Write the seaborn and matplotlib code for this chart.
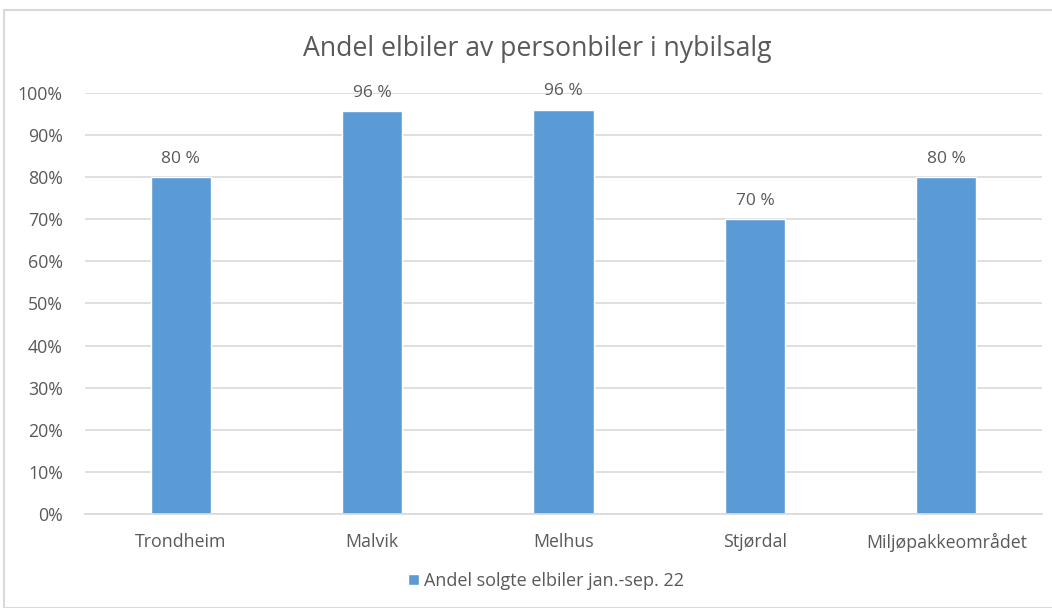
import seaborn as sns
import matplotlib.pyplot as plt
import pandas as pd
from matplotlib.patches import Rectangle
from matplotlib.ticker import PercentFormatter

# values (share of new cars that are EVs)
kommuner = ['Trondheim', 'Malvik', 'Melhus', 'Stjørdal', 'Miljøpakkeområdet']
andel = [0.80, 0.957, 0.96, 0.70, 0.80]
etiketter = ['80 %', '96 %', '96 %', '70 %', '80 %']
serie = 'Andel solgte elbiler jan.-sep. 22'

df = pd.DataFrame({'kommune': kommuner, 'andel': andel})

sns.set_style('white')
plt.rcParams['font.family'] = ['Open Sans', 'DejaVu Sans']

grey = '#595959'
blue = '#5B9BD5'

fig = plt.figure(figsize=(10.52, 6.08), dpi=100)
ax = fig.add_axes([85 / 1052, 0.1546, 957 / 1052, 0.6925])

sns.barplot(data=df, x='kommune', y='andel', color=blue, width=0.314,
            saturation=1, ax=ax, label=serie)

ax.set_ylim(0, 1)
ax.set_yticks([i / 10 for i in range(11)])
ax.yaxis.set_major_formatter(PercentFormatter(1.0, decimals=0))
ax.grid(axis='y', color='#D9D9D9', linewidth=1.2)
ax.set_axisbelow(True)
for s in ['top', 'right', 'left']:
    ax.spines[s].set_visible(False)
ax.spines['bottom'].set_color('#D9D9D9')
ax.spines['bottom'].set_linewidth(1.2)
ax.tick_params(axis='both', length=0, labelsize=12.8, colors=grey, pad=14)
ax.tick_params(axis='y', pad=16)
ax.set_xlabel('')
ax.set_ylabel('')

for bar, txt in zip(ax.patches, etiketter):
    ax.text(bar.get_x() + bar.get_width() / 2, bar.get_height() + 0.025, txt,
            ha='center', va='bottom', fontsize=12.5, color=grey)

fig.suptitle('Andel elbiler av personbiler i nybilsalg', x=537 / 1052, y=0.942,
             fontsize=19.2, color=grey)

ax.legend(loc='center', frameon=False, fontsize=13, handlelength=0.6,
          handleheight=0.6, handletextpad=0.3, labelcolor=grey)
ax.get_legend().set_bbox_to_anchor((546 / 1052, 1 - 581 / 608), transform=fig.transFigure)

# light frame around the chart area
fig.patches.append(Rectangle((4 / 1052, 0), 1, 1 - 10 / 608, transform=fig.transFigure,
                             fill=False, edgecolor='#D9D9D9', linewidth=1.5))

fig.savefig('out.png', dpi=100)
